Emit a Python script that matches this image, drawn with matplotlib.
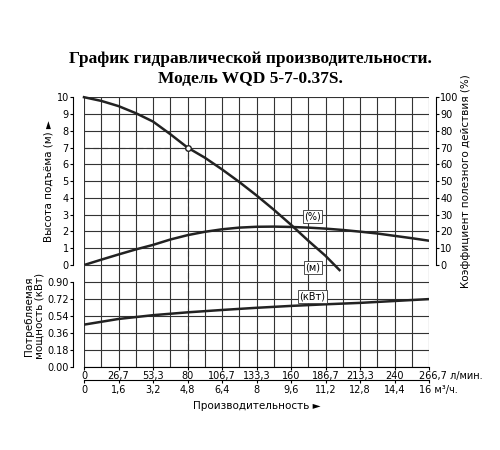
import numpy as np
import matplotlib.pyplot as plt

# values
q_ticks = [0, 1.6, 3.2, 4.8, 6.4, 8, 9.6, 11.2, 12.8, 14.4, 16]
lmin_labels = ['0', '26,7', '53,3', '80', '106,7', '133,3', '160', '186,7', '213,3', '240', '266,7 л/мин.']
m3h_labels = ['0', '1,6', '3,2', '4,8', '6,4', '8', '9,6', '11,2', '12,8', '14,4', '16 м³/ч.']

head_q = [0, 0.8, 1.6, 2.4, 3.2, 4.0, 4.8, 5.6, 6.4, 7.2, 8.0, 8.8, 9.6, 10.4, 11.2, 11.85]
head_m = [10, 9.78, 9.47, 9.05, 8.55, 7.8, 7.0, 6.4, 5.7, 4.95, 4.15, 3.3, 2.4, 1.45, 0.55, -0.3]

eff_q = [0, 0.8, 1.6, 2.4, 3.2, 4.0, 4.8, 5.6, 6.4, 7.2, 8.0, 8.8, 9.6, 10.4, 11.2, 12.0, 12.8, 13.6, 14.4, 15.2, 16]
eff_pct = [0, 3.2, 6.3, 9.3, 12.0, 15.2, 17.8, 19.8, 21.3, 22.3, 22.8, 22.9, 22.7, 22.3, 21.7,
           20.9, 19.9, 18.8, 17.4, 16.0, 14.5]

pow_q = [0, 1.6, 3.2, 4.8, 6.4, 8, 9.6, 11.2, 12.8, 14.4, 16]
pow_kw = [0.45, 0.51, 0.55, 0.58, 0.605, 0.628, 0.648, 0.665, 0.68, 0.70, 0.72]

duty_q, duty_h = 4.8, 7.0

fig = plt.figure(figsize=(5, 4.5), dpi=100)
fig.text(0.5, 0.86, 'График гидравлической производительности.', ha='center',
         fontsize=12.5, fontweight='bold', family='Liberation Serif')
fig.text(0.5, 0.815, 'Модель WQD 5-7-0.37S.', ha='center',
         fontsize=12.5, fontweight='bold', family='Liberation Serif')

ax1 = fig.add_axes([0.168, 0.411, 0.69, 0.373])
ax2 = fig.add_axes([0.168, 0.184, 0.69, 0.227])
ax2.patch.set_visible(False)

grid_x = np.arange(0, 16.01, 0.8)
for ax in (ax1, ax2):
    ax.set_xlim(0, 16)
    for g in grid_x:
        ax.axvline(g, color='#333333', lw=0.8, zorder=1)
    for s in ('top', 'bottom', 'right'):
        ax.spines[s].set_visible(False)
    ax.spines['left'].set_position(('outward', 8))
    ax.spines['left'].set_linewidth(0.8)
    ax.tick_params(labelsize=7, length=2, width=0.8, pad=1)

# top panel: head and efficiency
ax1.set_ylim(0, 10)
ax1.set_yticks(range(11))
for g in range(11):
    ax1.axhline(g, color='#333333', lw=0.8, zorder=1)
ax1.set_xticks([])
ax1.set_ylabel('Высота подъёма (м) ►', fontsize=7.5, labelpad=2)
ax1.plot([0, duty_q], [duty_h, duty_h], color='#333333', lw=0.8, ls=(0, (5, 3)), zorder=2)
ax1.plot([duty_q, duty_q], [0, duty_h], color='#333333', lw=0.8, ls=(0, (5, 3)), zorder=2)

axr = ax1.twinx()
axr.set_ylim(0, 100)
axr.set_yticks(range(0, 101, 10))
for s in ('top', 'bottom', 'left'):
    axr.spines[s].set_visible(False)
axr.spines['right'].set_position(('outward', 5))
axr.spines['right'].set_linewidth(0.8)
axr.tick_params(labelsize=7, length=2, width=0.8, pad=1)
axr.set_ylabel('Коэффициент полезного действия (%)', fontsize=7.5, labelpad=2)
axr.plot(eff_q, eff_pct, color='#222222', lw=1.8, zorder=3)
axr.text(10.6, 29, '(%)', fontsize=7, ha='center', va='center', zorder=5,
         bbox=dict(boxstyle='square,pad=0.15', fc='white', ec='#333333', lw=0.6))
# head curve drawn on the twin so it sits above everything
axr.plot(head_q, [h * 10 for h in head_m], color='#222222', lw=1.8, zorder=3, clip_on=False)
axr.plot([duty_q], [duty_h * 10], 'o', mfc='white', mec='#222222', ms=4, zorder=4)
axr.text(10.6, -1.5, '(м)', fontsize=7, ha='center', va='center', zorder=5,
         bbox=dict(boxstyle='square,pad=0.15', fc='white', ec='#333333', lw=0.6))

# bottom panel: power
p_ticks = [0, 0.18, 0.36, 0.54, 0.72, 0.90]
ax2.set_ylim(0, 1.08)
ax2.set_yticks(p_ticks)
ax2.set_yticklabels(['%.2f' % v for v in p_ticks])
ax2.spines['left'].set_bounds(0, 0.9)
for g in p_ticks + [1.08]:
    ax2.axhline(g, color='#333333', lw=0.8, zorder=1)
ax2.set_ylabel('Потребляемая\nмощность (кВт)', fontsize=7.5, labelpad=2, linespacing=1.0)
ax2.plot(pow_q, pow_kw, color='#222222', lw=1.8, zorder=3)
ax2.plot([duty_q, duty_q], [0, 1.08], color='#333333', lw=0.8, ls=(0, (5, 3)), zorder=2)
ax2.text(10.6, 0.745, '(кВт)', fontsize=7, ha='center', va='center', zorder=5,
         bbox=dict(boxstyle='square,pad=0.15', fc='white', ec='#333333', lw=0.6))

ax2.spines['bottom'].set_visible(True)
ax2.spines['bottom'].set_linewidth(0.8)
ax2.set_xticks(q_ticks)
ax2.set_xticklabels(lmin_labels)
ax2.tick_params(axis='x', length=2, pad=1)
sec = ax2.secondary_xaxis(-0.13)
sec.set_xticks(q_ticks)
sec.set_xticklabels(m3h_labels)
sec.tick_params(labelsize=7, length=2, width=0.8, pad=1)
sec.spines['bottom'].set_linewidth(0.8)
for lab in ax2.get_xticklabels()[-1:] + sec.get_xticklabels()[-1:]:
    lab.set_ha('left')
    lab.set_x(lab.get_position()[0])
# shift last labels so the number stays centred on its tick
import matplotlib.transforms as mtrans
for lab in ax2.get_xticklabels()[-1:] + sec.get_xticklabels()[-1:]:
    lab.set_transform(lab.get_transform() + mtrans.ScaledTranslation(-0.1, 0, fig.dpi_scale_trans))
ax2.text(8, -0.33, 'Производительность ►', transform=ax2.get_xaxis_transform(),
         fontsize=7.5, ha='center', va='top')

fig.savefig('out.png', dpi=100, facecolor='white')
